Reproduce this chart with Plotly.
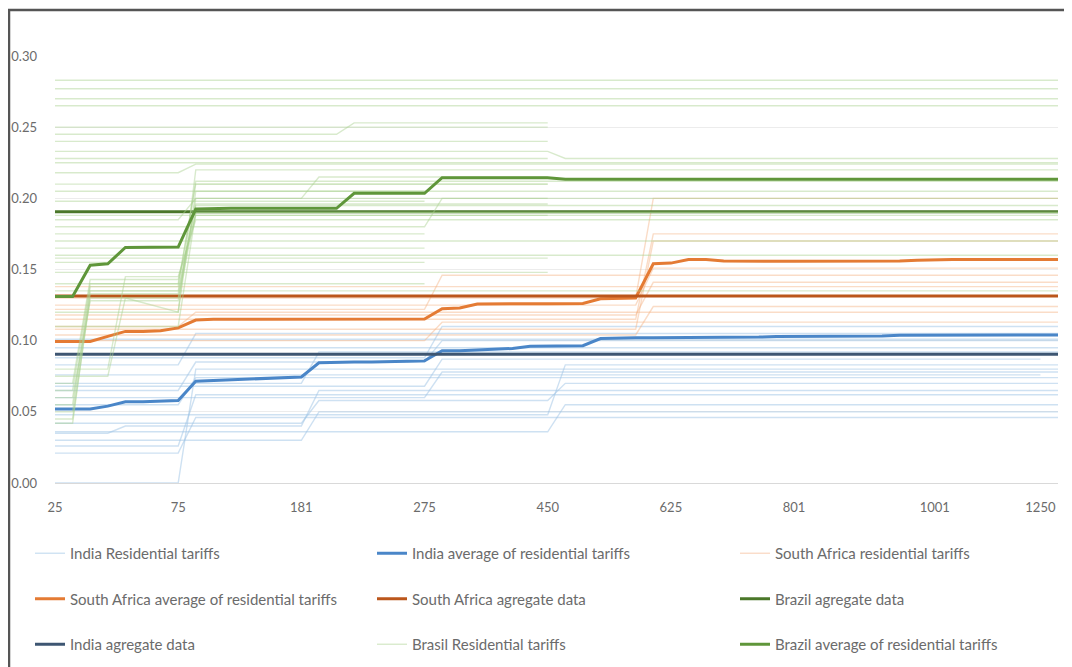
import plotly.graph_objects as go

# ---------------- data ----------------
categories = [25, 30, 35, 40, 50, 55, 60, 75, 100, 110, 125, 135, 150, 165, 181,
              200, 210, 225, 240, 250, 260, 275, 300, 325, 350, 375, 400, 425, 450,
              475, 500, 525, 550, 575, 600, 625, 650, 675, 700, 725, 750, 775, 801,
              825, 850, 875, 900, 925, 950, 975, 1001, 1025, 1050, 1100, 1150, 1200,
              1250, 1300]
tick_labels = ["25", "75", "181", "275", "450", "625", "801", "1001", "1250"]
y_ticks = [0.00, 0.05, 0.10, 0.15, 0.20, 0.25, 0.30]

india_avg = [0.052, 0.052, 0.052, 0.054, 0.057, 0.057, 0.0575, 0.058,
             0.0715, 0.072, 0.0725, 0.073, 0.0735, 0.074, 0.0745,
             0.0845, 0.085, 0.085, 0.085, 0.085, 0.0855, 0.0858,
             0.093, 0.093, 0.0935, 0.094, 0.0945, 0.096, 0.096, 0.0962, 0.0965,
             0.1015, 0.102, 0.102, 0.102, 0.102, 0.1022, 0.1022, 0.1024, 0.1024, 0.1025,
             0.103, 0.103, 0.103, 0.103, 0.103, 0.1032, 0.1032,
             0.1038, 0.1038, 0.104, 0.104, 0.104, 0.104, 0.104, 0.104, 0.104, 0.104]
sa_avg = [0.0995, 0.0995, 0.0995, 0.103, 0.1065, 0.1065, 0.107, 0.109,
          0.1145, 0.115, 0.115, 0.115, 0.115, 0.115, 0.115,
          0.115, 0.115, 0.115, 0.1152, 0.1152, 0.1152, 0.1152,
          0.1225, 0.123, 0.1258, 0.126, 0.126, 0.126, 0.126, 0.126, 0.1262,
          0.1295, 0.1297, 0.13, 0.154, 0.1545, 0.157, 0.157, 0.156, 0.1558, 0.1558,
          0.1558, 0.1558, 0.1558, 0.1558, 0.1558, 0.1558, 0.1558,
          0.156, 0.1565, 0.157, 0.157, 0.157, 0.157, 0.157, 0.157, 0.157, 0.157]
brazil_avg = [0.131, 0.131, 0.153, 0.154, 0.1655, 0.1655, 0.1655, 0.1658,
              0.1925, 0.193, 0.193, 0.193, 0.193, 0.193, 0.193,
              0.193, 0.193, 0.2035, 0.2035, 0.2035, 0.2035, 0.2035,
              0.2145, 0.2145, 0.2145, 0.2145, 0.2145, 0.2145, 0.2145, 0.2134, 0.2134,
              0.2134, 0.2134, 0.2134, 0.2134, 0.2134, 0.2134, 0.2134, 0.2134, 0.2134, 0.2134,
              0.2134, 0.2134, 0.2134, 0.2134, 0.2134, 0.2134, 0.2134,
              0.2134, 0.2134, 0.2134, 0.2134, 0.2134, 0.2134, 0.2134, 0.2134, 0.2134, 0.2134]

# aggregate data: one value across the whole range (first, last category)
india_agg = [0.0905, 0.0905]
sa_agg = [0.1313, 0.1313]
brazil_agg = [0.1905, 0.1905]

# individual residential tariffs: (kWh category, tariff) break points
india_tariffs = [
    [(25, 0.021), (75, 0.021), (100, 0.046), (1300, 0.046)],
    [(25, 0.0), (75, 0.0), (100, 0.08), (1300, 0.08)],
    [(25, 0.030), (181, 0.030), (200, 0.050), (1300, 0.050)],
    [(25, 0.035), (40, 0.035), (50, 0.040), (181, 0.040), (200, 0.065), (1300, 0.065)],
    [(25, 0.042), (181, 0.042), (200, 0.058), (450, 0.058), (475, 0.070), (1300, 0.070)],
    [(25, 0.055), (75, 0.055), (100, 0.074), (1300, 0.074)],
    [(25, 0.060), (275, 0.060), (300, 0.078), (1300, 0.078)],
    [(25, 0.065), (75, 0.065), (100, 0.085), (275, 0.085), (300, 0.100), (1300, 0.100)],
    [(25, 0.070), (181, 0.070), (200, 0.092), (1300, 0.092)],
    [(25, 0.083), (75, 0.083), (100, 0.105), (1300, 0.105)],
    [(25, 0.095), (1300, 0.095)],
    [(25, 0.048), (450, 0.048), (475, 0.083), (1300, 0.083)],
    [(25, 0.036), (450, 0.036), (475, 0.055), (1300, 0.055)],
    [(25, 0.088), (275, 0.088), (300, 0.110), (1300, 0.110)],
    [(25, 0.101), (1300, 0.101)],
    [(25, 0.076), (1250, 0.076)],
    [(25, 0.026), (75, 0.026), (100, 0.062), (1300, 0.062)],
    [(25, 0.068), (275, 0.068), (300, 0.087), (1250, 0.087)],
]
sa_tariffs = [
    [(25, 0.100), (275, 0.100), (300, 0.113), (1300, 0.113)],
    [(25, 0.104), (575, 0.104), (600, 0.124), (1300, 0.124)],
    [(25, 0.110), (75, 0.110), (100, 0.120), (1300, 0.120)],
    [(25, 0.118), (575, 0.118), (600, 0.141), (1300, 0.141)],
    [(25, 0.125), (575, 0.125), (600, 0.151), (1300, 0.151)],
    [(25, 0.130), (575, 0.130), (600, 0.200), (1300, 0.200)],
    [(25, 0.108), (575, 0.108), (600, 0.170), (1300, 0.170)],
    [(25, 0.115), (575, 0.115), (600, 0.175), (1300, 0.175)],
    [(25, 0.138), (1300, 0.138)],
    [(25, 0.122), (275, 0.122), (300, 0.146), (1300, 0.146)],
]
brazil_tariffs = [
    [(25, 0.250), (450, 0.250)],
    [(25, 0.245), (181, 0.245), (210, 0.245), (225, 0.253), (450, 0.253)],
    [(25, 0.240), (450, 0.240)],
    [(25, 0.233), (450, 0.233), (475, 0.228), (1300, 0.228)],
    [(25, 0.225), (1300, 0.225)],
    [(25, 0.218), (75, 0.218), (100, 0.224), (1300, 0.224)],
    [(25, 0.210), (450, 0.210)],
    [(25, 0.205), (1300, 0.205)],
    [(25, 0.198), (275, 0.198)],
    [(25, 0.185), (75, 0.185), (100, 0.200), (1300, 0.200)],
    [(25, 0.180), (275, 0.180), (300, 0.200), (450, 0.200)],
    [(25, 0.175), (275, 0.175)],
    [(25, 0.170), (1300, 0.170)],
    [(25, 0.165), (275, 0.165)],
    [(25, 0.160), (1300, 0.160)],
    [(25, 0.155), (275, 0.155)],
    [(25, 0.148), (450, 0.148)],
    [(25, 0.140), (275, 0.140)],
    [(25, 0.135), (1300, 0.135)],
    [(25, 0.045), (30, 0.045), (35, 0.130), (75, 0.130), (100, 0.190), (1300, 0.190)],
    [(25, 0.050), (30, 0.050), (35, 0.135), (75, 0.135), (100, 0.195), (1300, 0.195)],
    [(25, 0.060), (30, 0.060), (35, 0.128), (75, 0.128), (100, 0.200), (181, 0.200), (200, 0.215), (450, 0.215)],
    [(25, 0.065), (30, 0.065), (35, 0.140), (75, 0.140), (100, 0.210), (450, 0.210)],
    [(25, 0.075), (40, 0.075), (50, 0.130), (75, 0.120), (100, 0.220), (1300, 0.220)],
    [(25, 0.080), (40, 0.080), (50, 0.145), (75, 0.145), (100, 0.185), (1300, 0.185)],
    [(25, 0.110), (75, 0.110), (100, 0.190), (1300, 0.190)],
    [(25, 0.120), (75, 0.120), (100, 0.205), (275, 0.205)],
    [(25, 0.042), (30, 0.042), (35, 0.133), (75, 0.133), (100, 0.196), (450, 0.196)],
    [(25, 0.055), (30, 0.055), (35, 0.138), (75, 0.138), (100, 0.212), (1300, 0.212)],
    [(25, 0.070), (30, 0.070), (35, 0.143), (75, 0.143), (100, 0.188), (450, 0.188)],
    [(25, 0.158), (450, 0.158)],
    [(25, 0.188), (1300, 0.188)],
    [(25, 0.228), (450, 0.228)],
    [(25, 0.265), (1300, 0.265)],
    [(25, 0.270), (1300, 0.270)],
    [(25, 0.277), (1300, 0.277)],
    [(25, 0.283), (1300, 0.283)],
]

# ---------------- styling ----------------
FONT = "Lato"
TXT = "#6b6b6b"
C_IND_T = "rgba(157,195,230,0.5)"
C_SA_T = "rgba(244,177,131,0.45)"
C_BR_T = "rgba(169,208,142,0.45)"
C_IND_AVG = "#4a86c8"
C_IND_AGG = "#3e5672"
C_SA_AVG = "#e47b34"
C_SA_AGG = "#bb561b"
C_BR_AGG = "#4a7729"
C_BR_AVG = "#5f963a"

cat_str = [str(c) for c in categories]
fig = go.Figure()


def add_tariffs(tariffs, name, color, legend, group):
    for k, pts in enumerate(tariffs):
        fig.add_trace(go.Scatter(
            x=[str(p[0]) for p in pts], y=[p[1] for p in pts], mode="lines",
            line=dict(color=color, width=1.4), name=name, legend=legend,
            legendgroup=group, showlegend=(k == 0), hoverinfo="skip"))


def add_line(xs, ys, name, color, legend, group, width=3):
    fig.add_trace(go.Scatter(
        x=xs, y=ys, mode="lines", line=dict(color=color, width=width),
        name=name, legend=legend, legendgroup=group))


ends = [cat_str[0], cat_str[-1]]
# series order as in the source workbook
add_tariffs(india_tariffs, "India Residential tariffs", C_IND_T, "legend", "g1")
add_line(cat_str, india_avg, "India average of residential tariffs", C_IND_AVG, "legend2", "g2")
add_tariffs(sa_tariffs, "South Africa residential tariffs", C_SA_T, "legend3", "g3")
add_line(cat_str, sa_avg, "South Africa average of residential tariffs", C_SA_AVG, "legend", "g4")
add_line(ends, sa_agg, "South Africa agregate data", C_SA_AGG, "legend2", "g5")
add_line(ends, brazil_agg, "Brazil agregate data", C_BR_AGG, "legend3", "g6")
add_line(ends, india_agg, "India agregate data", C_IND_AGG, "legend", "g7")
add_tariffs(brazil_tariffs, "Brasil Residential tariffs", C_BR_T, "legend2", "g8")
add_line(cat_str, brazil_avg, "Brazil average of residential tariffs", C_BR_AVG, "legend3", "g9")

# page body has an 8px margin: figure coordinates = screen coordinates - 8
OFF = 8
W, H = 1064, 659
L, R, T, B = 47, 14, 48, 184
pw, ph = W - L - R, H - T - B


def px_x(sx):
    return (sx - OFF - L) / pw


def px_y(sy):
    return (H - B - (sy - OFF)) / ph


leg_common = dict(orientation="v", xanchor="left", yanchor="top",
                  font=dict(family=FONT, size=15, color=TXT),
                  bgcolor="rgba(0,0,0,0)", tracegroupgap=23, itemwidth=30,
                  itemclick=False, itemdoubleclick=False)

fig.update_layout(
    width=W, height=H,
    margin=dict(l=L, r=R, t=T, b=B, autoexpand=False),
    paper_bgcolor="white", plot_bgcolor="white",
    font=dict(family=FONT, size=13, color=TXT),
    legend=dict(x=px_x(30), y=px_y(537), **leg_common),
    legend2=dict(x=px_x(372), y=px_y(537), **leg_common),
    legend3=dict(x=px_x(735), y=px_y(537), **leg_common),
    xaxis=dict(type="category", categoryorder="array", categoryarray=cat_str,
               range=[0, len(cat_str) - 1], tickmode="array",
               tickvals=tick_labels, ticktext=tick_labels,
               showgrid=False, showline=True, linecolor="#d9d9d9", linewidth=1,
               ticks="", ticklabelstandoff=12,
               tickfont=dict(family=FONT, size=13, color=TXT)),
    yaxis=dict(range=[0, 0.30], tickmode="array", tickvals=y_ticks,
               tickformat=".2f", showgrid=True, gridcolor="#ececec", gridwidth=1,
               zeroline=False, ticks="", ticklabelstandoff=17,
               tickfont=dict(family=FONT, size=13, color=TXT)),
    shapes=[dict(type="rect", xref="paper", yref="paper",
                 x0=px_x(9), x1=px_x(1085), y0=px_y(690), y1=px_y(10),
                 line=dict(color="#555555", width=2.5), layer="above")],
    showlegend=True,
)

fig.write_html("out.html")
